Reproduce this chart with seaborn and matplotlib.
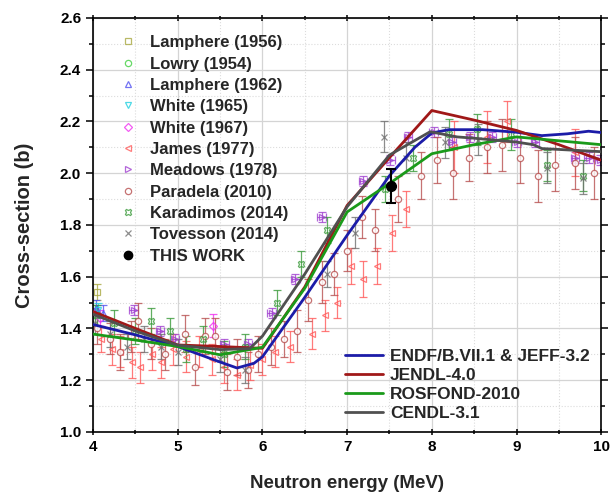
import numpy as np
import matplotlib
matplotlib.use('Agg')
import matplotlib.pyplot as plt
from matplotlib.lines import Line2D
import pandas as pd
import seaborn as sns

# evaluated cross-sections
endf_x = [4.0, 4.5, 5.0, 5.5, 5.7, 5.9, 6.0, 6.5, 7.0, 7.5, 7.8, 8.0, 8.2, 8.6, 9.0, 9.3, 9.6, 9.85, 10.0]
endf_y = [1.415, 1.375, 1.33, 1.27, 1.247, 1.265, 1.29, 1.52, 1.76, 1.99, 2.10, 2.155, 2.168, 2.168, 2.158, 2.145, 2.152, 2.162, 2.157]

jendl_x = [4.0, 4.5, 5.0, 5.5, 6.0, 6.5, 7.0, 7.5, 8.0, 8.5, 9.0, 9.5, 10.0]
jendl_y = [1.465, 1.40, 1.336, 1.33, 1.323, 1.56, 1.875, 2.06, 2.242, 2.205, 2.165, 2.11, 2.05]

rosfond_x = [4.0, 4.5, 5.0, 5.5, 6.0, 6.5, 7.0, 7.5, 8.0, 8.5, 9.0, 9.5, 10.0]
rosfond_y = [1.378, 1.355, 1.33, 1.298, 1.327, 1.555, 1.85, 1.96, 2.075, 2.11, 2.14, 2.125, 2.11]

cendl_x = [4.0, 4.5, 5.0, 5.5, 5.85, 6.0, 6.5, 7.0, 7.5, 7.98, 8.3, 8.5, 9.0, 9.2, 9.3, 10.0]
cendl_y = [1.455, 1.39, 1.335, 1.318, 1.322, 1.37, 1.61, 1.87, 2.07, 2.16, 2.14, 2.135, 2.12, 2.11, 2.095, 2.083]

# experimental data
lamp56_x = [4.05]
lamp56_y = [1.54]
lamp56_e = [0.03]

lowry_x = [4.02]
lowry_y = [1.45]
lowry_e = [0.04]

lamp62_x = [4.04, 4.12]
lamp62_y = [1.48, 1.46]
lamp62_e = [0.03, 0.03]

white65_x = [4.06]
white65_y = [1.47]
white65_e = [0.03]

white67_x = [4.08, 5.42]
white67_y = [1.44, 1.41]
white67_e = [0.03, 0.045]

james_x = [4.10, 4.22, 4.32, 4.46, 4.56, 4.70, 4.80, 4.95, 5.10, 5.25, 5.40, 5.55, 5.70, 5.85, 6.00,
           6.15, 6.33, 6.58, 6.74, 6.88, 7.04, 7.19, 7.35, 7.53, 7.70, 8.26, 8.65, 8.89, 9.69]
james_y = [1.36, 1.32, 1.31, 1.27, 1.25, 1.30, 1.27, 1.32, 1.29, 1.31, 1.28, 1.25, 1.22, 1.26, 1.28,
           1.31, 1.33, 1.38, 1.45, 1.50, 1.64, 1.59, 1.64, 1.77, 1.86, 2.10, 2.14, 2.20, 2.08]
james_e = [0.05, 0.06, 0.06, 0.06, 0.06, 0.06, 0.06, 0.06, 0.06, 0.06, 0.06, 0.06, 0.06, 0.06, 0.06,
           0.06, 0.06, 0.06, 0.06, 0.06, 0.07, 0.07, 0.07, 0.07, 0.07, 0.10, 0.10, 0.08, 0.09]

meadows_x = [4.02, 4.48, 4.79, 4.97, 5.55, 5.83, 6.11, 6.39, 6.70, 7.19, 7.51, 7.72, 8.02, 8.24,
             8.45, 8.71, 9.00, 9.22, 9.69, 9.85, 9.98]
meadows_y = [1.46, 1.47, 1.39, 1.36, 1.34, 1.34, 1.46, 1.59, 1.83, 1.97, 2.05, 2.14, 2.16, 2.12,
             2.14, 2.14, 2.12, 2.12, 2.06, 2.06, 2.05]
meadows_e = [0.02] * 21

paradela_x = [4.05, 4.20, 4.32, 4.45, 4.53, 4.68, 4.85, 5.09, 5.20, 5.32, 5.44, 5.58, 5.70, 5.83, 5.95,
              6.10, 6.25, 6.41, 6.54, 6.70, 6.85, 7.00, 7.17, 7.33, 7.60, 7.87, 8.06, 8.25, 8.44,
              8.65, 8.83, 9.04, 9.25, 9.46, 9.69, 9.91]
paradela_y = [1.40, 1.36, 1.31, 1.37, 1.43, 1.34, 1.30, 1.38, 1.25, 1.37, 1.37, 1.23, 1.29, 1.24, 1.30,
              1.33, 1.36, 1.39, 1.51, 1.58, 1.61, 1.70, 1.83, 1.78, 1.90, 1.99, 2.05, 2.00, 2.06,
              2.10, 2.11, 2.06, 1.99, 2.03, 2.04, 2.00]
paradela_e = [0.06, 0.06, 0.07, 0.06, 0.07, 0.06, 0.06, 0.07, 0.07, 0.07, 0.07, 0.07, 0.07, 0.07, 0.07,
              0.07, 0.07, 0.08, 0.08, 0.08, 0.08, 0.08, 0.08, 0.08, 0.09, 0.09, 0.09, 0.10, 0.09,
              0.10, 0.10, 0.10, 0.10, 0.10, 0.10, 0.10]

karad_x = [4.05, 4.25, 4.50, 4.69, 4.91, 5.10, 5.30, 5.55, 5.80, 6.17, 6.46, 6.76, 7.45, 7.78, 8.20,
           8.53, 8.93, 9.36, 9.79]
karad_y = [1.45, 1.42, 1.39, 1.43, 1.39, 1.32, 1.36, 1.30, 1.33, 1.50, 1.65, 1.78, 1.94, 2.06, 2.15,
           2.17, 2.15, 2.03, 1.99]
karad_e = [0.04, 0.05, 0.05, 0.05, 0.05, 0.05, 0.05, 0.05, 0.05, 0.05, 0.05, 0.05, 0.05, 0.05, 0.06,
           0.06, 0.06, 0.06, 0.06]

toves_x = [4.02, 4.20, 4.40, 4.60, 4.80, 5.00, 5.50, 5.80, 6.76, 7.09, 7.43, 7.70, 8.15, 8.55, 9.36, 9.79]
toves_y = [1.42, 1.38, 1.33, 1.36, 1.33, 1.31, 1.28, 1.24, 1.61, 1.77, 2.14, 2.06, 2.12, 2.13, 2.02, 1.98]
toves_e = [0.04, 0.05, 0.05, 0.05, 0.05, 0.05, 0.05, 0.05, 0.05, 0.06, 0.06, 0.06, 0.06, 0.06, 0.06, 0.06]

this_x = [7.52]
this_y = [1.95]
this_e = [0.065]

sns.set_style('ticks')
plt.rcParams['font.family'] = ['Liberation Sans', 'DejaVu Sans']
plt.rcParams['font.weight'] = 'bold'

fig = plt.figure(figsize=(6.16, 4.97), dpi=100)
ax = fig.add_axes([0.151, 0.131, 0.825, 0.833])

experiments = [
    ('Lamphere (1956)', lamp56_x, lamp56_y, lamp56_e, 's', '#a8a840', 'none'),
    ('Lowry (1954)', lowry_x, lowry_y, lowry_e, 'o', '#40d040', 'none'),
    ('Lamphere (1962)', lamp62_x, lamp62_y, lamp62_e, '^', '#5050f0', 'none'),
    ('White (1965)', white65_x, white65_y, white65_e, 'v', '#20d0e0', 'none'),
    ('White (1967)', white67_x, white67_y, white67_e, 'D', '#f030f0', 'none'),
    ('James (1977)', james_x, james_y, james_e, '<', '#ff5a5a', 'none'),
    ('Meadows (1978)', meadows_x, meadows_y, meadows_e, '>', '#a040d0', 'none'),
    ('Paradela (2010)', paradela_x, paradela_y, paradela_e, 'o', '#b85050', 'white'),
    ('Karadimos (2014)', karad_x, karad_y, karad_e, 'X', '#3a9a3a', 'none'),
    ('Tovesson (2014)', toves_x, toves_y, toves_e, 'x', '#707070', 'none'),
]

exp_handles = []
for label, xs, ys, es, mk, col, fc in experiments:
    xerr = 0.05 if label.startswith('Meadows') else None
    ax.errorbar(xs, ys, yerr=es, xerr=xerr, fmt=mk, ms=4.5, mfc=fc, mec=col, ecolor=col,
                elinewidth=0.9, capsize=3, capthick=0.9, mew=0.9, alpha=0.8, zorder=2)
    exp_handles.append(Line2D([], [], ls='none', marker=mk, ms=4.5, mfc=fc, mec=col, mew=0.9, alpha=0.8,
                              label=label))

ax.errorbar(this_x, this_y, yerr=this_e, fmt='o', ms=7, color='black', elinewidth=1.5,
            capsize=3.5, capthick=1.5, zorder=5)
exp_handles.append(Line2D([], [], ls='none', marker='o', ms=6, color='black', label='THIS WORK'))

curves = pd.concat([
    pd.DataFrame({'E': endf_x, 'xs': endf_y, 'lib': 'ENDF/B.VII.1 & JEFF-3.2'}),
    pd.DataFrame({'E': jendl_x, 'xs': jendl_y, 'lib': 'JENDL-4.0'}),
    pd.DataFrame({'E': rosfond_x, 'xs': rosfond_y, 'lib': 'ROSFOND-2010'}),
    pd.DataFrame({'E': cendl_x, 'xs': cendl_y, 'lib': 'CENDL-3.1'}),
])
line_colors = {'ENDF/B.VII.1 & JEFF-3.2': '#1c1ca8', 'JENDL-4.0': '#a01818',
               'ROSFOND-2010': '#1a9a1a', 'CENDL-3.1': '#505050'}
sns.lineplot(data=curves, x='E', y='xs', hue='lib', palette=line_colors, linewidth=2.0,
             sort=False, estimator=None, ax=ax, zorder=4, legend=False)

line_handles = [Line2D([], [], color=c, lw=2.0, label=k) for k, c in line_colors.items()]

ax.set_xlim(4, 10)
ax.set_ylim(1.0, 2.6)
ax.set_xticks(np.arange(4, 10.1, 1))
ax.set_xticks(np.arange(4.5, 10, 1), minor=True)
ax.set_yticks(np.arange(1.0, 2.61, 0.2))
ax.set_yticks(np.arange(1.1, 2.6, 0.2), minor=True)
ax.yaxis.set_major_formatter(plt.FormatStrFormatter('%.1f'))

ax.grid(which='major', color='#d4d4d4', lw=0.9)
ax.grid(which='minor', color='#dcdcdc', lw=0.8, ls=':')
ax.set_axisbelow(True)
for sp in ax.spines.values():
    sp.set_color('black')
    sp.set_linewidth(1.2)

ax.tick_params(which='both', direction='out', labelsize=11, width=1.1, colors='black')
ax.tick_params(which='major', length=5)
ax.tick_params(which='minor', length=3)
ax.tick_params(which='both', top=True, right=True)
ax.xaxis.set_tick_params(which='both', direction='inout')
for lab in ax.get_xticklabels() + ax.get_yticklabels():
    lab.set_fontweight('bold')

ax.set_xlabel('Neutron energy (MeV)', fontsize=13.5, fontweight='bold', labelpad=15)
ax.set_ylabel('Cross-section (b)', fontsize=14.5, fontweight='bold', labelpad=19)

leg1 = ax.legend(handles=exp_handles, loc='upper left', bbox_to_anchor=(0.036, 0.974), frameon=False,
                 prop={'size': 12, 'weight': 'bold'}, labelspacing=0.38, handlelength=1.2,
                 handletextpad=0.72, borderaxespad=0.0)
ax.add_artist(leg1)
ax.legend(handles=line_handles, loc='lower left', bbox_to_anchor=(0.482, 0.01), frameon=False,
          prop={'size': 12.5, 'weight': 'bold'}, labelspacing=0.22, handlelength=2.2,
          handletextpad=0.4, borderaxespad=0.0)

fig.savefig('out.png', dpi=100)
